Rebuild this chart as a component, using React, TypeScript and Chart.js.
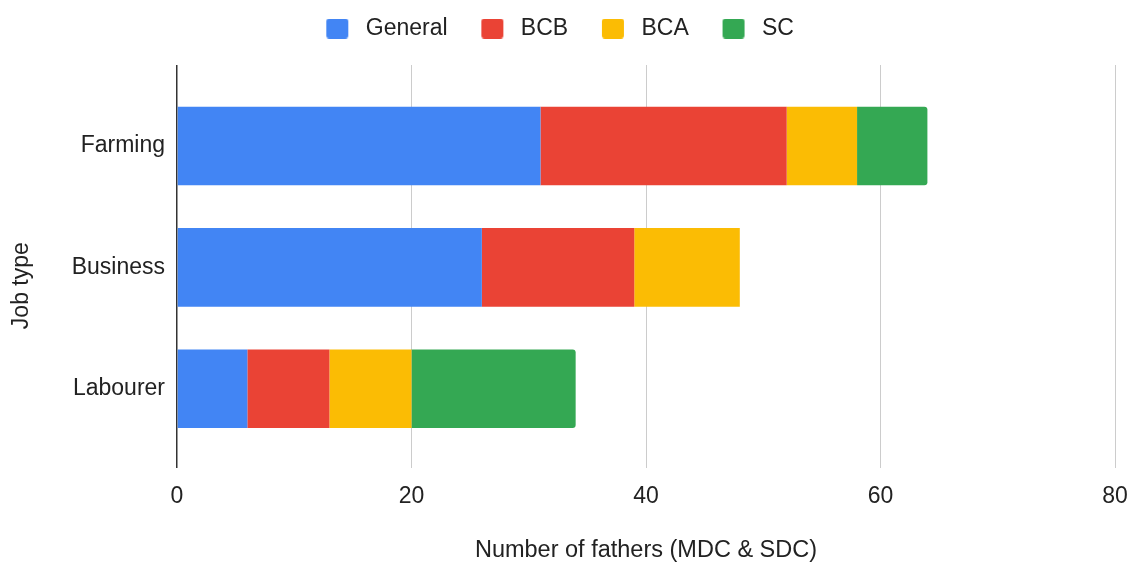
import React, { useEffect, useRef } from "react";
import { Chart, registerables } from "chart.js";

Chart.register(...registerables);

const categories = ["Farming", "Business", "Labourer"];
const seriesNames = ["General", "BCB", "BCA", "SC"];
const generalValues = [31, 26, 6];
const bcbValues = [21, 13, 7];
const bcaValues = [6, 9, 7];
const scValues = [6, 0, 14];
const xTicks = [0, 20, 40, 60, 80];
const colors = ["#4285F4", "#EA4335", "#FBBC04", "#34A853"];
const xTitle = "Number of fathers (MDC & SDC)";
const yTitle = "Job type";

export default function App() {
  const ref = useRef<HTMLCanvasElement>(null);

  useEffect(() => {
    const family = "'Liberation Sans', Arial, sans-serif";
    const textColor = "#222222";
    const swatches = colors.map((c) => {
      const cv = document.createElement("canvas");
      cv.width = 32;
      cv.height = 20;
      const g = cv.getContext("2d")!;
      g.fillStyle = c;
      g.beginPath();
      if ((g as any).roundRect) (g as any).roundRect(4, 0, 22, 20, 3);
      else g.rect(4, 0, 22, 20);
      g.fill();
      return cv;
    });
    const valueSets = [generalValues, bcbValues, bcaValues, scValues];
    const datasets = seriesNames.map((name, s) => ({
      label: name,
      stack: "all",
      data: valueSets[s].map((v, i) => ({ x: v, y: i })),
      backgroundColor: colors[s],
      borderWidth: 0,
      borderRadius: s === seriesNames.length - 1 ? 3 : 0,
      borderSkipped: "start",
      categoryPercentage: 1,
      barPercentage: 0.648,
    }));

    const legendHeight = {
      id: "legendHeight",
      beforeLayout(chart: any) {
        const lg = chart.legend;
        if (lg && !lg.__patched) {
          const orig = lg.fit;
          lg.fit = function () {
            orig.call(this);
            this.height = 65;
          };
          lg.__patched = true;
        }
      },
    };

    const chart = new Chart(ref.current!, {
      type: "bar",
      data: { datasets: datasets as any },
      options: {
        indexAxis: "y",
        animation: false,
        responsive: true,
        maintainAspectRatio: false,
        layout: { padding: { top: 0, right: 0, left: 0, bottom: 0 } },
        plugins: {
          tooltip: { enabled: false },
          legend: {
            position: "top",
            align: "center",
            labels: {
              usePointStyle: true,
              pointStyleWidth: 32,
              boxHeight: 20,
              padding: 17,
              color: textColor,
              font: { size: 23, family },
              generateLabels: (ch: any) =>
                ch.data.datasets.map((ds: any, i: number) => ({
                  text: ds.label + "\u00A0\u00A0",
                  fillStyle: colors[i],
                  strokeStyle: colors[i],
                  lineWidth: 0,
                  pointStyle: swatches[i],
                  hidden: false,
                  datasetIndex: i,
                  fontColor: textColor,
                })),
            },
          },
        },
        scales: {
          x: {
            type: "linear",
            position: "bottom",
            min: 0,
            max: 80,
            stacked: true,
            afterBuildTicks: (s: any) => {
              s.ticks = xTicks.map((v) => ({ value: v }));
            },
            afterFit: (s: any) => {
              s.height = 98;
              s.paddingRight = 14;
              s.paddingLeft = 0;
            },
            grid: {
              color: (ctx: any) => (ctx.tick && ctx.tick.value === 0 ? "#333333" : "#cccccc"),
              lineWidth: (ctx: any) => (ctx.tick && ctx.tick.value === 0 ? 1.5 : 1),
              drawTicks: false,
            },
            border: { display: false },
            ticks: { color: textColor, font: { size: 23, family }, padding: 15 },
            title: {
              display: true,
              text: xTitle,
              color: textColor,
              font: { size: 23.5, family },
              padding: { top: 0, bottom: 1 },
            },
          },
          y: {
            type: "linear",
            position: "left",
            reverse: true,
            offset: false,
            bounds: "data",
            min: -0.667,
            max: 2.653,
            afterBuildTicks: (s: any) => {
              s.ticks = categories.map((_, i) => ({ value: i }));
            },
            afterFit: (s: any) => {
              s.width = 177;
            },
            grid: { display: false, drawTicks: false, offset: false },
            border: { display: false },
            ticks: {
              color: textColor,
              font: { size: 23, family },
              padding: 12,
              autoSkip: false,
              callback: (v: any) => categories[v] ?? "",
            },
            title: {
              display: true,
              text: yTitle + "\u00A0".repeat(6),
              color: textColor,
              font: { size: 23, family },
              padding: { top: 8, bottom: 0 },
            },
          },
        },
      } as any,
      plugins: [legendHeight],
    });
    return () => chart.destroy();
  }, []);

  return (
    <div style={{ position: "fixed", left: 0, top: 0, width: 1129, height: 566, background: "#fff" }}>
      <canvas ref={ref} />
    </div>
  );
}
